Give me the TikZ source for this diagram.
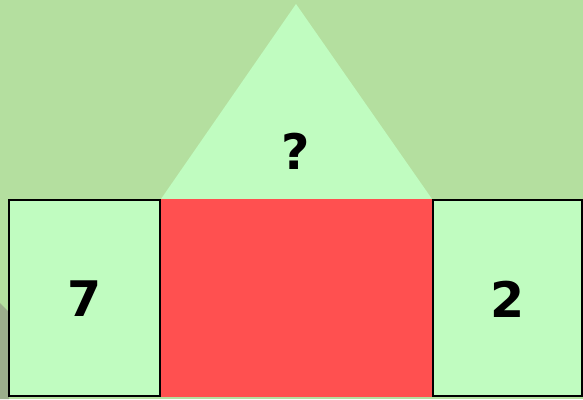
\documentclass[tikz,border=0pt]{standalone}
\usepackage{fontspec}
\setmainfont{DejaVu Sans}
\definecolor{bgG}{HTML}{B4DF9F}
\definecolor{boxG}{HTML}{C0FCC0}
\definecolor{redF}{HTML}{FF5050}
\definecolor{grayG}{HTML}{9CAE8C}
\begin{document}
\begin{tikzpicture}[x=1pt,y=-1pt,
  numbox/.style={draw=black,line width=2pt,fill=boxG},
  lbl/.style={font=\fontsize{49}{49}\selectfont\bfseries,text=black,inner sep=0pt}]
\fill[bgG] (0,0) rectangle (583,399);
\useasboundingbox (0,0) rectangle (583,399);
\fill[grayG] (0,303) -- (9,312) -- (9,399) -- (0,399) -- cycle;
\fill[boxG] (161,199) -- (296,4) -- (432,199) -- cycle;
\fill[redF] (161,199) rectangle (432,397);
\draw[numbox] (9,200) rectangle (160,396);
\draw[numbox] (433,200) rectangle (582,396);
\node[lbl] (q) at (296,151) {?};
\node[lbl] (a) at (85,299) {7};
\node[lbl] (b) at (508,299) {2};
\end{tikzpicture}
\end{document}
